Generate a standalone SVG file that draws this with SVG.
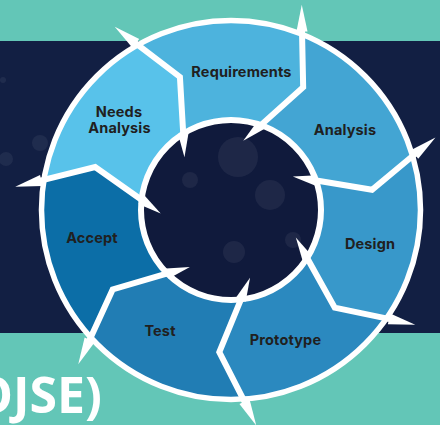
<svg xmlns="http://www.w3.org/2000/svg" xmlns:xlink="http://www.w3.org/1999/xlink" width="440" height="425" viewBox="0 0 440 425">
  <style>
    .seg { stroke: none; }
    .lbl { font-family: Inter, "Open Sans", "DejaVu Sans", sans-serif; font-weight: 700; font-size: 14.5px; letter-spacing: 0.15px; fill: #202020; text-anchor: middle; }
    .bub { fill: #ffffff; fill-opacity: 0.06; }
    .big { font-family: "Open Sans", "Noto Sans", sans-serif; font-weight: 700; font-size: 50px; fill: #ffffff; }
  </style>
  <defs>
    <clipPath id="ringClip">
      <circle cx="0" cy="0" r="191"/>
    </clipPath>
    <path id="wedge" d="M216 0 L139.69 28.16 L70.22 -10.49 L0 0 L51.98 48.36 L65.08 126.77 L134.67 168.88 L199.52 250.19 L288.31 138.84 L320 0 Z"/>
    <g id="chev">
      <polyline points="192.5,8.7 139.69,28.16 89,0" fill="none" stroke="#ffffff" stroke-width="6" stroke-linejoin="miter"/>
      <polygon points="217,0 193.6,14.2 189.9,3.7" fill="#ffffff"/>
      <polygon points="69.5,-11 92.8,-3.9 87.3,5.0" fill="#ffffff"/>
    </g>
  </defs>

  <!-- background -->
  <rect x="0" y="0" width="440" height="425" fill="#63c6b7"/>
  <rect x="0" y="41" width="440" height="292" fill="#121f43"/>
  <circle class="bub" cx="3" cy="80" r="3"/>
  <circle class="bub" cx="40" cy="143" r="8"/>
  <circle class="bub" cx="6" cy="159" r="7"/>
  <text class="big" x="102" y="413" text-anchor="end">OJSE)</text>

  <!-- ring segments -->
  <g id="requirements">
    <use xlink:href="#wedge" href="#wedge" class="seg" fill="#4db3dd" clip-path="url(#ringClip)" transform="translate(231 210) rotate(-122.4)"/>
    <text class="lbl" x="241.5" y="77">Requirements</text>
  </g>
  <g id="analysis">
    <use xlink:href="#wedge" href="#wedge" class="seg" fill="#43a5d3" clip-path="url(#ringClip)" transform="translate(231 210) rotate(-70.97)"/>
    <text class="lbl" x="345" y="135">Analysis</text>
  </g>
  <g id="design">
    <use xlink:href="#wedge" href="#wedge" class="seg" fill="#3898ca" clip-path="url(#ringClip)" transform="translate(231 210) rotate(-19.54)"/>
    <text class="lbl" x="370" y="249">Design</text>
  </g>
  <g id="prototype">
    <use xlink:href="#wedge" href="#wedge" class="seg" fill="#2b89bf" clip-path="url(#ringClip)" transform="translate(231 210) rotate(31.89)"/>
    <text class="lbl" x="285.5" y="345">Prototype</text>
  </g>
  <g id="test">
    <use xlink:href="#wedge" href="#wedge" class="seg" fill="#217db4" clip-path="url(#ringClip)" transform="translate(231 210) rotate(83.31)"/>
    <text class="lbl" x="160" y="335.5">Test</text>
  </g>
  <g id="accept">
    <use xlink:href="#wedge" href="#wedge" class="seg" fill="#0c6ea7" clip-path="url(#ringClip)" transform="translate(231 210) rotate(134.74)"/>
    <text class="lbl" x="92" y="243">Accept</text>
  </g>
  <g id="needs-analysis">
    <use xlink:href="#wedge" href="#wedge" class="seg" fill="#58c2ea" clip-path="url(#ringClip)" transform="translate(231 210) rotate(186.17)"/>
    <text class="lbl" x="119.5" y="117"><tspan x="119" y="117">Needs</tspan><tspan x="119.5" y="132.5">Analysis</tspan></text>
  </g>

  <!-- ring borders and centre -->
  <circle cx="231" cy="210" r="189.5" fill="none" stroke="#ffffff" stroke-width="5.5"/>
  <circle cx="231" cy="210" r="90" fill="#101a3c" stroke="#ffffff" stroke-width="6"/>
  <circle class="bub" cx="238" cy="157" r="20"/>
  <circle class="bub" cx="190" cy="180" r="8"/>
  <circle class="bub" cx="270" cy="195" r="15"/>
  <circle class="bub" cx="234" cy="252" r="11"/>
  <circle class="bub" cx="293" cy="240" r="8"/>

  <!-- chevron dividers -->
  <g id="connectors">
    <use xlink:href="#chev" href="#chev" transform="translate(231 210) rotate(-122.4)"/>
    <use xlink:href="#chev" href="#chev" transform="translate(231 210) rotate(-70.97)"/>
    <use xlink:href="#chev" href="#chev" transform="translate(231 210) rotate(-19.54)"/>
    <use xlink:href="#chev" href="#chev" transform="translate(231 210) rotate(31.89)"/>
    <use xlink:href="#chev" href="#chev" transform="translate(231 210) rotate(83.31)"/>
    <use xlink:href="#chev" href="#chev" transform="translate(231 210) rotate(134.74)"/>
    <use xlink:href="#chev" href="#chev" transform="translate(231 210) rotate(186.17)"/>
  </g>
</svg>
